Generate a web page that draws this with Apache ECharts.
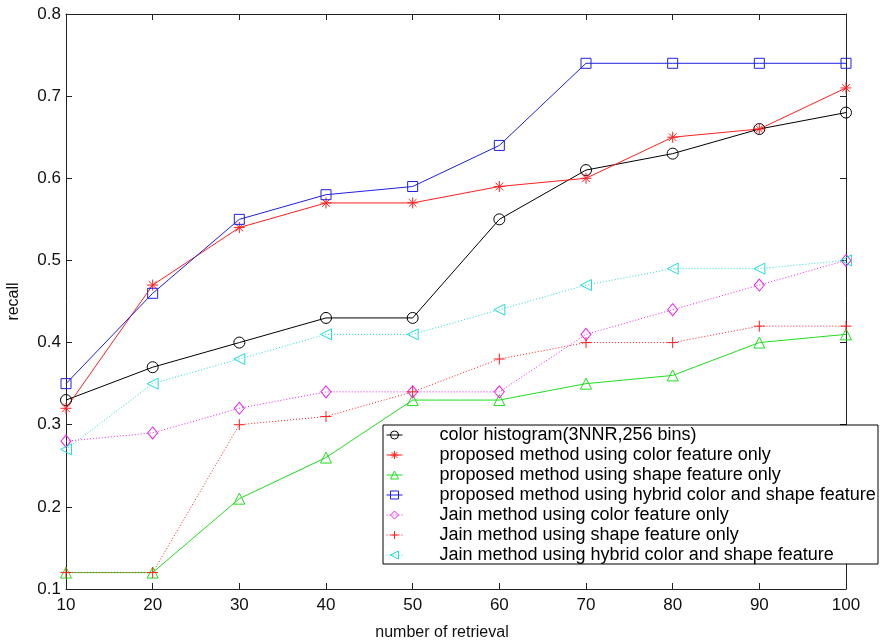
<!DOCTYPE html>
<html>
<head>
<meta charset="utf-8">
<script src="https://cdn.jsdelivr.net/npm/echarts@6/dist/echarts.min.js"></script>
<style>html,body{margin:0;padding:0;background:#fff;}#c{width:882px;height:643px;}</style>
</head>
<body>
<div id="c"></div>
<script>
const retrieval = [10, 20, 30, 40, 50, 60, 70, 80, 90, 100];
const colorHistogram = [0.33, 0.37, 0.40, 0.43, 0.43, 0.55, 0.61, 0.63, 0.66, 0.68];
const proposedColor = [0.32, 0.47, 0.54, 0.57, 0.57, 0.59, 0.60, 0.65, 0.66, 0.71];
const proposedShape = [0.12, 0.12, 0.21, 0.26, 0.33, 0.33, 0.35, 0.36, 0.40, 0.41];
const proposedHybrid = [0.35, 0.46, 0.55, 0.58, 0.59, 0.64, 0.74, 0.74, 0.74, 0.74];
const jainColor = [0.28, 0.29, 0.32, 0.34, 0.34, 0.34, 0.41, 0.44, 0.47, 0.50];
const jainShape = [0.12, 0.12, 0.30, 0.31, 0.34, 0.38, 0.40, 0.40, 0.42, 0.42];
const jainHybrid = [0.27, 0.35, 0.38, 0.41, 0.41, 0.44, 0.47, 0.49, 0.49, 0.50];
const seriesNames = [
  'color histogram(3NNR,256 bins)',
  'proposed method using color feature only',
  'proposed method using shape feature only',
  'proposed method using hybrid color and shape feature',
  'Jain method using color feature only',
  'Jain method using shape feature only',
  'Jain method using hybrid color and shape feature'
];
const xTicks = [10, 20, 30, 40, 50, 60, 70, 80, 90, 100];
const yTicks = [0.1, 0.2, 0.3, 0.4, 0.5, 0.6, 0.7, 0.8];

const FONT = 'Liberation Sans';
const ASTERISK = 'path://M5,0L5,10M0,5L10,5M1.5,1.5L8.5,8.5M1.5,8.5L8.5,1.5';
const PLUS = 'path://M5,0L5,10M0,5L10,5';
const LEFTTRI = 'path://M10,0L10,10L0,5Z';

const COLORS = ['#000000', '#ff2020', '#20dd20', '#2020e0', '#ee22ee', '#ff2020', '#22dddd'];
const SYMBOLS = ['circle', ASTERISK, 'triangle', 'rect', 'diamond', PLUS, LEFTTRI];
const SIZES = [11, 11, 11, 10, [10, 12], 11, 11];
const DOTTED = [false, false, false, false, true, true, true];
const seriesValues = [colorHistogram, proposedColor, proposedShape, proposedHybrid, jainColor, jainShape, jainHybrid];

function pairs(vals) { return retrieval.map((x, i) => [x, vals[i]]); }

function mk(i) {
  const color = COLORS[i];
  return {
    name: seriesNames[i],
    type: 'line',
    data: pairs(seriesValues[i]),
    xAxisIndex: 0, yAxisIndex: 0,
    symbol: SYMBOLS[i],
    symbolSize: SIZES[i],
    showAllSymbol: true,
    animation: false,
    lineStyle: { color: color, width: 1, type: DOTTED[i] ? [1, 2] : 'solid' },
    itemStyle: { color: 'transparent', borderColor: color, borderWidth: 1 },
    emphasis: { disabled: true }
  };
}

const chart = echarts.init(document.getElementById('c'), null, { renderer: 'canvas' });
const axisLine = { show: true, lineStyle: { color: '#222', width: 1 } };
chart.setOption({
  animation: false,
  backgroundColor: '#fff',
  textStyle: { fontFamily: FONT },
  grid: { left: 66, right: 36, top: 14, bottom: 54, containLabel: false, outerBoundsMode: 'none' },
  xAxis: [
    {
      type: 'value', min: 10, max: 100, interval: 10, position: 'bottom',
      name: 'number of retrieval', nameLocation: 'middle', nameGap: 36,
      nameTextStyle: { fontFamily: FONT, fontSize: 16, color: '#111', padding: [0, 28, 0, 0] },
      axisLine: axisLine,
      axisTick: { show: true, inside: true, length: 6, lineStyle: { color: '#222' } },
      axisLabel: { fontFamily: FONT, fontSize: 17, color: '#111', margin: 8,
        formatter: v => xTicks.includes(v) ? String(v) : '' },
      splitLine: { show: false }
    },
    {
      type: 'value', min: 10, max: 100, interval: 10, position: 'top',
      axisLine: axisLine,
      axisTick: { show: true, inside: true, length: 6, lineStyle: { color: '#222' } },
      axisLabel: { show: false }, splitLine: { show: false }
    }
  ],
  yAxis: [
    {
      type: 'value', min: 0.1, max: 0.8, interval: 0.1, position: 'left',
      name: 'recall', nameLocation: 'middle', nameGap: 44, nameRotate: 90,
      nameTextStyle: { fontFamily: FONT, fontSize: 16, color: '#111' },
      axisLine: axisLine,
      axisTick: { show: true, inside: true, length: 6, lineStyle: { color: '#222' } },
      axisLabel: { fontFamily: FONT, fontSize: 17, color: '#111', margin: 5,
        formatter: v => { const r = Math.round(v * 10) / 10; return yTicks.includes(r) ? r.toFixed(1) : ''; } },
      splitLine: { show: false }
    },
    {
      type: 'value', min: 0.1, max: 0.8, interval: 0.1, position: 'right',
      axisLine: axisLine,
      axisTick: { show: true, inside: true, length: 6, lineStyle: { color: '#222' } },
      axisLabel: { show: false }, splitLine: { show: false }
    }
  ],
  graphic: [
    { type: 'rect', z: 3, shape: { x: 383, y: 425, width: 495, height: 139 },
      style: { fill: '#fff', stroke: '#000', lineWidth: 1 } }
  ],
  legend: {
    z: 4,
    orient: 'vertical',
    left: 386, top: 426,
    padding: 0,
    itemWidth: 16, itemHeight: 10, itemGap: 2,
    selectedMode: false,
    textStyle: { fontFamily: FONT, fontSize: 18, color: '#000', padding: [0, 0, 0, 32] },
    data: seriesNames.map((n, i) => ({
      name: n,
      itemStyle: { color: 'transparent', borderColor: COLORS[i], borderWidth: 1 },
      lineStyle: { color: COLORS[i], width: 1, type: DOTTED[i] ? [1, 2] : 'solid', opacity: 1 }
    }))
  },
  series: seriesNames.map((n, i) => mk(i))
});
</script>
</body>
</html>
